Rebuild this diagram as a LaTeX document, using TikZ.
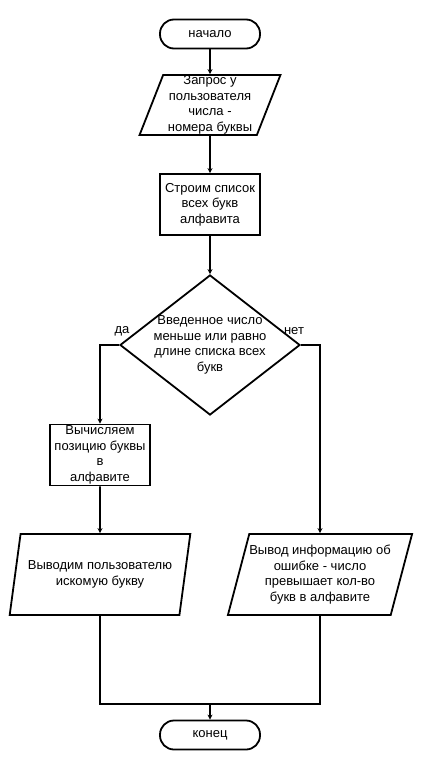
\documentclass[tikz,border=0pt]{standalone}
\usepackage{fontspec}
\setmainfont{Liberation Sans}
\usetikzlibrary{shapes.geometric,arrows.meta}

\begin{document}
\begin{tikzpicture}[
  x=1pt, y=-1pt,
  font=\fontsize{13}{15.5}\selectfont,
  term/.style={draw, line width=1.8pt, rounded corners=14pt, minimum width=100pt, minimum height=29pt},
  io/.style={draw, line width=1.8pt, trapezium, trapezium left angle=70, trapezium right angle=110,
    trapezium stretches=true, align=center, inner sep=0pt},
  proc/.style={draw, line width=1.8pt, rectangle, minimum width=100pt, minimum height=61pt, align=center, inner sep=0pt},
  cond/.style={draw, line width=1.8pt, diamond, minimum width=180pt, minimum height=140pt, inner sep=0pt},
  flow/.style={->, >={Stealth[length=5pt,width=5pt]}, line width=1.8pt},
  line/.style={line width=1.8pt}
]
\useasboundingbox (0,0) rectangle (420,770);

% Column positions (x)
\def\xMid{210}
\def\xYes{100}
\def\xNo{320}

% Main column
\node[term] (start) at (\xMid,34) {начало};
\node[io, minimum width=141pt, minimum height=60pt] (ask) at (\xMid,105)
  {Запрос у\\пользователя\\числа -\\номера буквы};
\node[proc] (build) at (\xMid,204.5) {Строим список\\всех букв\\алфавита};
\node[cond, label={[align=center]center:{Введенное число\\меньше или равно\\длине списка всех\\букв}}]
  (check) at (\xMid,345) {};

% Branch labels
\node (yes) at (122,331) {да};
\node (no) at (294,331) {нет};

% Left branch
\node[proc] (calc) at (\xYes,455) {Вычисляем\\позицию буквы\\в\\алфавите};
\node[io, minimum width=181pt, minimum height=81pt] (show) at (\xYes,574.5)
  {Выводим пользователю\\искомую букву};

% Right branch
\node[io, minimum width=180pt, minimum height=81pt] (err) at (\xNo,574.5)
  {Вывод информацию об\\ошибке - число\\превышает кол-во\\букв в алфавите};

% End
\coordinate (join) at (\xMid,704);
\node[term] (stop) at (\xMid,735) {конец};

% Connectors
\draw[flow] (start) -- (ask);
\draw[flow] (ask) -- (build);
\draw[flow] (build) -- (check);
\draw[flow] (check.west) -| (calc.north);
\draw[flow] (check.east) -| (err.north);
\draw[flow] (calc) -- (show);
\draw[line] (show.south) |- (join);
\draw[line] (err.south) |- (join);
\draw[flow] (join) -- (stop);

\end{tikzpicture}
\end{document}
